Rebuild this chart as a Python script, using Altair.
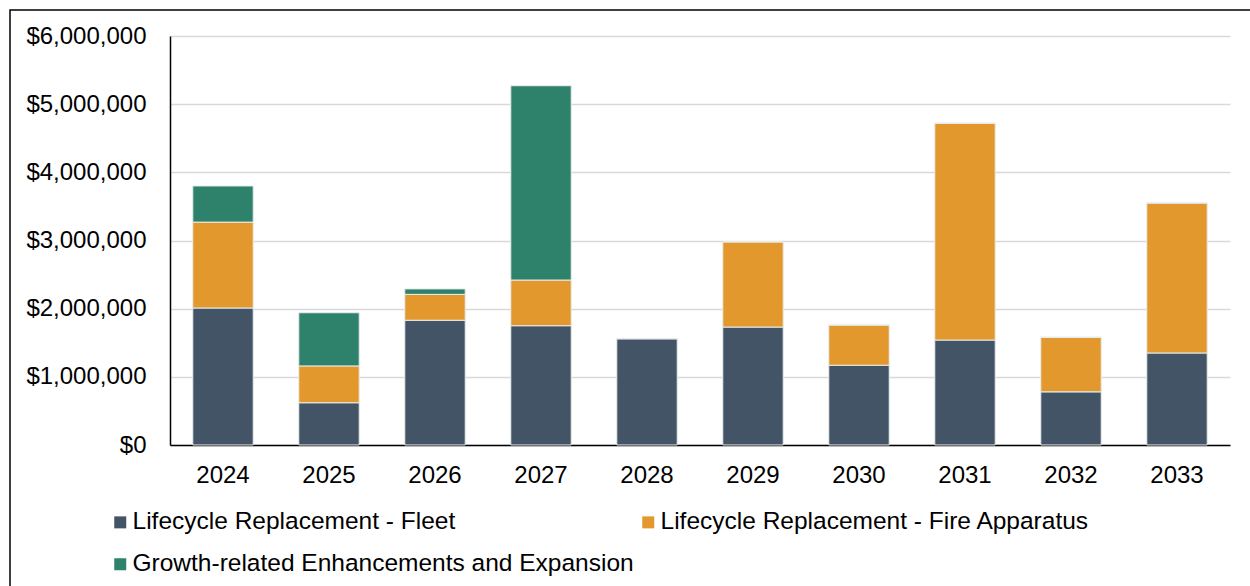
import altair as alt
import pandas as pd

years = ["2024", "2025", "2026", "2027", "2028", "2029", "2030", "2031", "2032", "2033"]
series = [
    "Lifecycle Replacement - Fleet",
    "Lifecycle Replacement - Fire Apparatus",
    "Growth-related Enhancements and Expansion",
]
colors = ["#425466", "#E3982E", "#2E826C"]
fleet = [2010000, 620000, 1830000, 1750000, 1560000, 1730000, 1170000, 1540000, 780000, 1350000]
fire = [1260000, 540000, 380000, 670000, 0, 1250000, 590000, 3180000, 800000, 2200000]
growth = [530000, 780000, 80000, 2850000, 0, 0, 0, 0, 0, 0]

rows = []
for i, y in enumerate(years):
    for k, (s, vals) in enumerate(zip(series, [fleet, fire, growth])):
        rows.append({"year": y, "series": s, "value": vals[i], "order": k})
df = pd.DataFrame(rows)

FONT = "Liberation Sans"

bars = alt.Chart(df).mark_bar(stroke="#e8ecec", strokeWidth=1).encode(
    x=alt.X("year:N", sort=years, title=None,
            scale=alt.Scale(paddingInner=0.43, paddingOuter=0.215),
            axis=alt.Axis(labelAngle=0, labelFontSize=24, labelFont=FONT, labelColor="#000000",
                          labelPadding=18, ticks=False, domainColor="#000000", domainWidth=1.5)),
    y=alt.Y("value:Q", stack="zero", title=None,
            scale=alt.Scale(domain=[0, 6000000], nice=False),
            axis=alt.Axis(values=[0, 1000000, 2000000, 3000000, 4000000, 5000000, 6000000],
                          format="$,.0f", labelFontSize=24, labelFont=FONT, labelColor="#000000",
                          labelPadding=24, ticks=False, domainColor="#000000", domainWidth=1.5,
                          grid=True, gridColor="#d9d9d9", gridWidth=1.5)),
    color=alt.Color("series:N", sort=series,
                    scale=alt.Scale(domain=series, range=colors),
                    legend=alt.Legend(title=None, orient="none", legendX=-62, legendY=474,
                                      direction="horizontal",
                                      columns=2, columnPadding=2, rowPadding=17,
                                      symbolType="square", symbolSize=144, symbolStrokeWidth=0,
                                      labelFontSize=24.5, labelFont=FONT, labelColor="#000000",
                                      labelOffset=0, labelLimit=0)),
    order=alt.Order("order:Q", sort="ascending"),
)

border = alt.Chart(alt.Data(values=[{}])).mark_rect(
    fill=None, stroke="#000000", strokeWidth=1.5
).encode(
    x=alt.value(-160), x2=alt.value(1100), y=alt.value(-26), y2=alt.value(600)
)

chart = alt.layer(bars, border).properties(
    width=1060, height=409,
    autosize=alt.AutoSizeParams(type="none"),
    padding={"left": 170, "top": 36, "right": 20, "bottom": 141},
    background="#ffffff",
).configure_view(stroke=None)

chart.save("out.html", embed_options={"renderer": "svg", "actions": False})
